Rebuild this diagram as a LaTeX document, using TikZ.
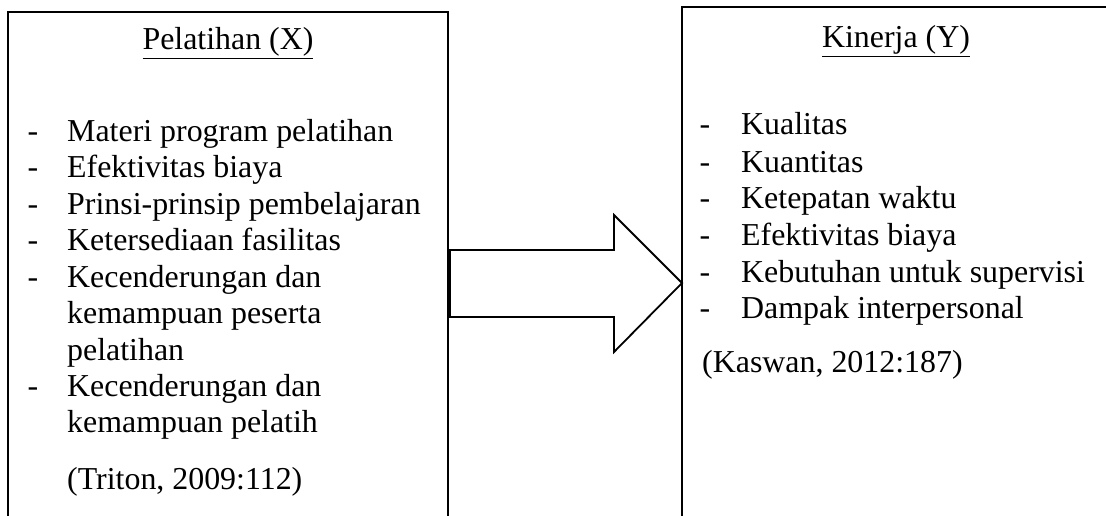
\documentclass[tikz,border=0pt]{standalone}
\usepackage{fontspec}
\setmainfont{Liberation Serif}
\begin{document}
\begin{tikzpicture}[x=1pt,y=-1pt,
  frame/.style={line width=1.8pt,line join=miter},
  txt/.style={anchor=base west,inner sep=0pt,font=\fontsize{31.9}{36}\selectfont},
  ttl/.style={anchor=base,inner sep=0pt,font=\fontsize{31.9}{36}\selectfont},
  dsh/.style={anchor=base,inner sep=0pt,font=\fontsize{31.9}{36}\selectfont}]
\useasboundingbox (0,0) rectangle (1106,516);
% boxes (cut off by the page)
\draw[frame] (8,530) -- (8,12) -- (448,12) -- (448,530);
\draw[frame] (682,530) -- (682,7) -- (1120,7);
% block arrow
\draw[line width=1.8pt,fill=white,line join=miter]
  (450,250) -- (614,250) -- (614,215) -- (682,283) -- (614,352) -- (614,317) -- (450,317) -- cycle;
% left box
\node[ttl] (tX) at (228,50) {\underline{Pelatihan (X)}};
\foreach \n/\y in {a/142,b/178,c/214,d/250,e/287,g/396}
  \node[dsh] (dX\n) at (33,\y) {-};
\node[txt] (x1) at (67,142) {Materi program pelatihan};
\node[txt] (x2) at (67,178) {Efektivitas biaya};
\node[txt] (x3) at (67,214) {Prinsi-prinsip pembelajaran};
\node[txt] (x4) at (67,250) {Ketersediaan fasilitas};
\node[txt] (x5a) at (67,287) {Kecenderungan dan};
\node[txt] (x5b) at (67,323) {kemampuan peserta};
\node[txt] (x5c) at (67,360) {pelatihan};
\node[txt] (x6a) at (67,396) {Kecenderungan dan};
\node[txt] (x6b) at (67,432) {kemampuan pelatih};
\node[txt] (srcX) at (67,489) {(Triton, 2009:112)};
% right box
\node[ttl] (tY) at (896,48) {\underline{Kinerja (Y)}};
\foreach \n/\y in {a/135,b/172,c/208,d/245,e/282,f/318}
  \node[dsh] (dY\n) at (705,\y) {-};
\node[txt] (y1) at (741,135) {Kualitas};
\node[txt] (y2) at (741,172) {Kuantitas};
\node[txt] (y3) at (741,208) {Ketepatan waktu};
\node[txt] (y4) at (741,245) {Efektivitas biaya};
\node[txt] (y5) at (741,282) {Kebutuhan untuk supervisi};
\node[txt] (y6) at (741,318) {Dampak interpersonal};
\node[txt] (srcY) at (702,372) {(Kaswan, 2012:187)};
\end{tikzpicture}
\end{document}
